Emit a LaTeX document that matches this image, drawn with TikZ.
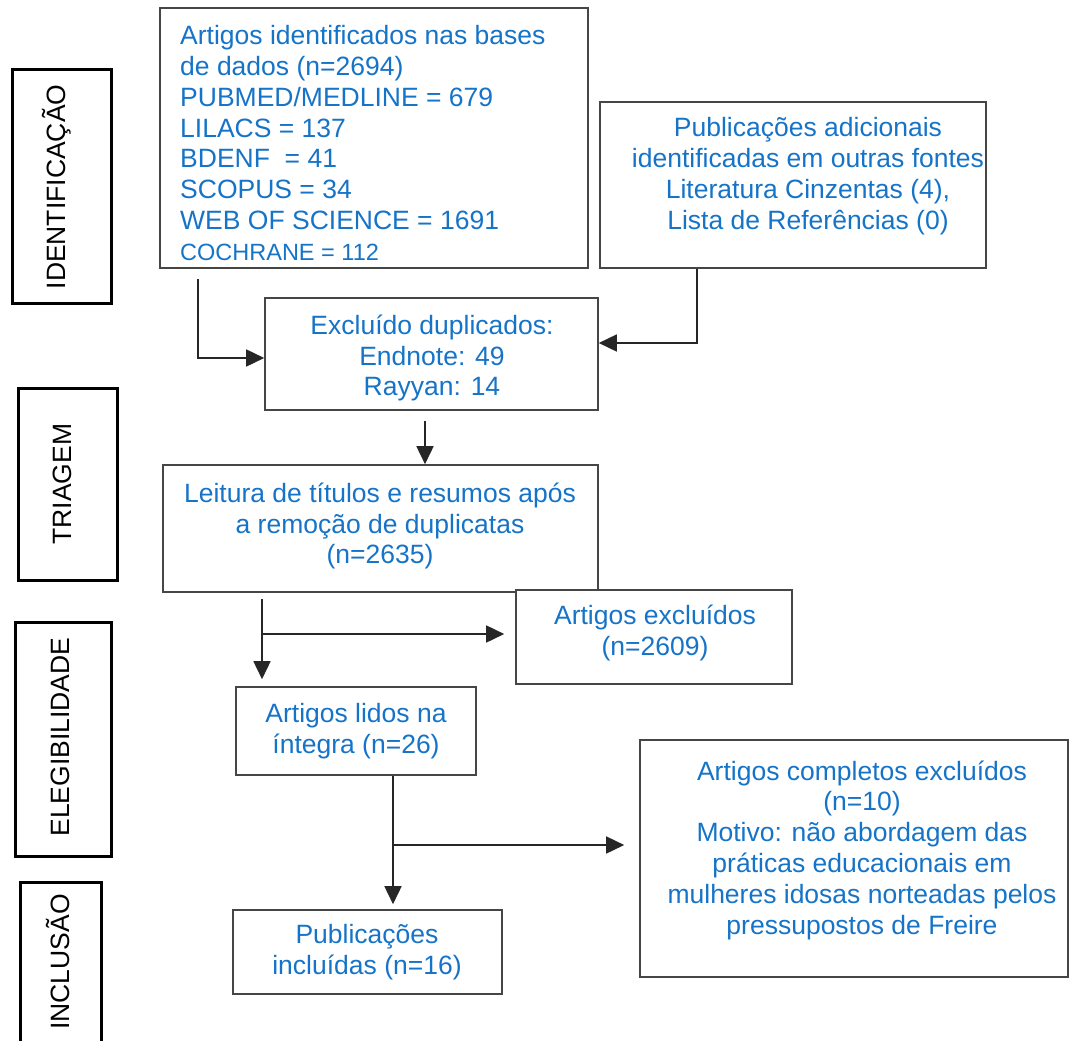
\documentclass[tikz,border=0pt]{standalone}
\usepackage{fontspec}
\setmainfont{Liberation Sans}
\usetikzlibrary{arrows.meta,calc}
\definecolor{txtblue}{RGB}{22,116,200}
\definecolor{boxgray}{RGB}{70,70,70}
\begin{document}
\begin{tikzpicture}[x=1pt,y=-1pt,
  box/.style={draw=boxgray, line width=1.6pt, fill=white, inner sep=0pt, minimum width=#1},
  side/.style={draw=black, line width=3pt, inner sep=0pt},
  txt/.style={text=txtblue, font=\fontsize{26.5}{30.8}\selectfont, align=center, inner sep=0pt},
  stxt/.style={text=black, font=\fontsize{26.5}{31}\selectfont, rotate=90, inner sep=0pt},
  arr/.style={draw=black!85, line width=1.6pt, -{Triangle[length=18pt,width=17pt]}},
  ln/.style={draw=black!85, line width=1.6pt}]
\useasboundingbox (0,0) rectangle (1074,1041);

% side stage boxes
\node[side, minimum width=99pt, minimum height=233pt] (sid) at (61.5,186.5) {};
\node[stxt] (sidt) at (57,187) {IDENTIFICAÇÃO};
\node[side, minimum width=99pt, minimum height=192pt] (str) at (67.5,484) {};
\node[stxt] (strt) at (62,484) {TRIAGEM};
\node[side, minimum width=96pt, minimum height=234pt] (sel) at (63,739) {};
\node[stxt] (selt) at (60,737) {ELEGIBILIDADE};
\node[side, minimum width=81pt, minimum height=170pt] (sin) at (60.5,967) {};
\node[stxt] (sint) at (58,962) {INCLUSÃO};

% flow boxes
\node[box=428pt, minimum height=260pt] (b1) at (374,138) {};
\node[txt, align=left, anchor=west] (b1t) at (180,143) {Artigos identificados nas bases\\de dados (n=2694)\\PUBMED/MEDLINE = 679\\LILACS = 137\\BDENF\ \ = 41\\SCOPUS = 34\\WEB OF SCIENCE = 1691\\{\fontsize{23.5}{31}\selectfont COCHRANE = 112}};

\node[box=386pt, minimum height=166pt] (b2) at (793,185) {};
\node[txt] (b2t) at (808,176) {Publicações adicionais\\identificadas em outras fontes\\Literatura Cinzentas (4),\\Lista de Referências (0)};

\node[box=333pt, minimum height=112pt] (exc) at (431.5,354) {};
\node[txt] (exct) at (432,358) {Excluído duplicados:\\Endnote: 49\\Rayyan: 14};

\node[box=435pt, minimum height=127pt] (leit) at (380.5,528.5) {};
\node[txt] (leitt) at (380,526) {Leitura de títulos e resumos após\\a remoção de duplicatas\\(n=2635)};

\node[box=276pt, minimum height=94pt] (axc) at (654,637) {};
\node[txt] (axct) at (655,633) {Artigos excluídos\\(n=2609)};

\node[box=240pt, minimum height=88pt] (lid) at (356,731) {};
\node[txt] (lidt) at (356,731) {Artigos lidos na\\íntegra (n=26)};

\node[box=428pt, minimum height=237pt] (cmp) at (854,858.5) {};
\node[txt] (cmpt) at (862,850) {Artigos completos excluídos\\(n=10)\\Motivo: não abordagem das\\práticas educacionais em\\mulheres idosas norteadas pelos\\pressupostos de Freire};

\node[box=269pt, minimum height=84pt] (inc) at (367.5,952) {};
\node[txt] (inct) at (367,952) {Publicações\\incluídas (n=16)};

% connectors
\coordinate (s1) at ($(b1.south -| 198,0)+(0,10)$);
\draw[arr] (s1) |- ([yshift=-4pt]exc.west);
\coordinate (s2) at (b2.south -| 697,0);
\draw[arr] (s2) |- ([yshift=11pt]exc.east);
\draw[arr] ([yshift=-10pt]exc.south -| 425,0) -- (leit.north -| 425,0);
\coordinate (s3) at ($(leit.south -| 262,0)+(0,6)$);
\coordinate (j3) at (262,634);
\draw[arr] (s3) -- ([yshift=7pt]lid.north -| 262,0);
\draw[arr] (j3) -- ([xshift=-11pt]axc.west |- j3);
\coordinate (s4) at (lid.south -| 393,0);
\coordinate (j4) at (393,845);
\draw[arr] (s4) -- ([yshift=5pt]inc.north -| 393,0);
\draw[arr] (j4) -- ([xshift=-15pt]cmp.west |- j4);
\end{tikzpicture}
\end{document}
